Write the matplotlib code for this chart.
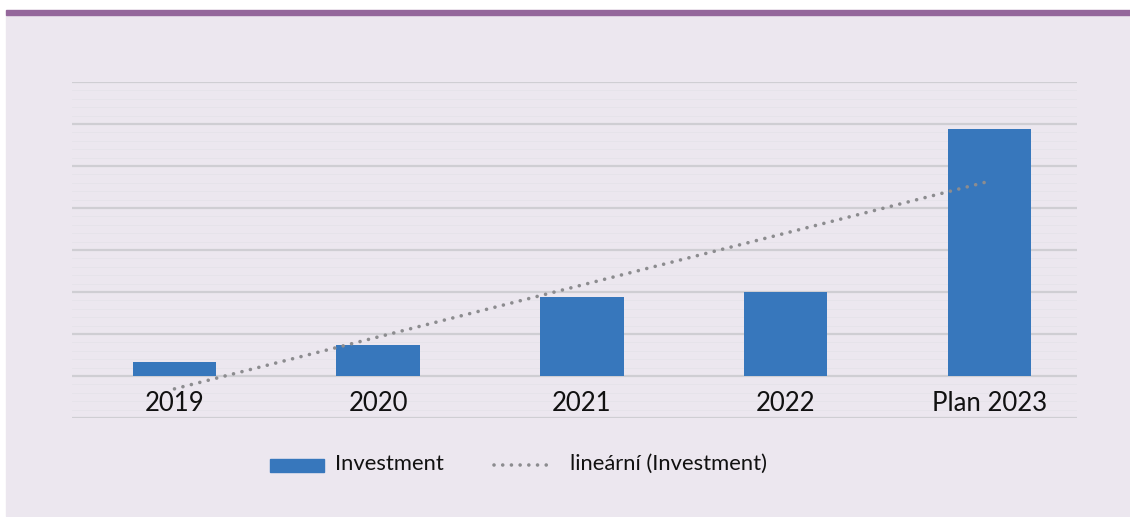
import numpy as np
import matplotlib
matplotlib.use("Agg")
import matplotlib.pyplot as plt
from matplotlib.patches import Rectangle
from matplotlib.lines import Line2D

plt.rcParams["font.family"] = ["Lato", "DejaVu Sans"]

# --- data (units = one gridline step) ---
categories = ["2019", "2020", "2021", "2022", "Plan 2023"]
investment = [0.33, 0.74, 1.88, 2.0, 5.88]

BG = "#ECE7EF"
BAR = "#3777BC"
GRID = "#CFCED3"
MINOR = "#E6E3EA"
TREND = "#8C8C8F"

W, H = 1130, 517
fig = plt.figure(figsize=(W / 100, H / 100), dpi=100)
fig.patch.set_facecolor("white")

# panel background + purple top rule
fig.patches.append(Rectangle((6 / W, 1 - 516 / H), 1 - 6 / W, (516 - 15) / H,
                             transform=fig.transFigure, color=BG, zorder=0))
fig.patches.append(Rectangle((6 / W, 1 - 15 / H), 1 - 6 / W, 5 / H,
                             transform=fig.transFigure, color="#94679B", zorder=1))

left, right, top, bottom = 72, 1077, 82, 418
ax = fig.add_axes([left / W, 1 - bottom / H, (right - left) / W, (bottom - top) / H])
ax.set_zorder(5)
ax.set_facecolor("none")
ax.set_xlim(-0.503, 4.43)
ax.set_ylim(-1, 7)

# gridlines
for y in np.arange(-1, 7.01, 0.2):
    if abs(y - round(y)) < 1e-6:
        continue
    ax.axhline(y, color=MINOR, lw=0.7, zorder=0)
for y in range(-1, 8):
    ax.axhline(y, color=GRID, lw=1.6, zorder=1)

x = np.arange(len(categories))
ax.bar(x, investment, width=0.41, color=BAR, zorder=2)

# linear trend
k, b = np.polyfit(x, investment, 1)
ax.plot(x, k * x + b, color=TREND, lw=2.6, linestyle=(0, (0.01, 2.4)),
        dash_capstyle="round", zorder=3)

for xi, lab in zip(x, categories):
    ax.text(xi, -0.66, lab, ha="center", va="center", fontsize=18.5, color="#111111")

for s in ax.spines.values():
    s.set_visible(False)
ax.set_xticks([])
ax.set_yticks([])

# legend
fig.patches.append(Rectangle((270 / W, 1 - 472 / H), 54 / W, 13 / H,
                             transform=fig.transFigure, color=BAR, zorder=3))
fig.text(335 / W, 1 - 464 / H, "Investment", ha="left", va="center",
         fontsize=15.8, color="#111111")
fig.lines.append(Line2D([494 / W, 550 / W], [1 - 465 / H, 1 - 465 / H],
                        transform=fig.transFigure, color=TREND, lw=2.6,
                        linestyle=(0, (0.01, 2.4)), dash_capstyle="round"))
fig.text(570 / W, 1 - 464 / H, "lineární (Investment)", ha="left", va="center",
         fontsize=15.8, color="#111111")

fig.savefig("out.png", dpi=100)
